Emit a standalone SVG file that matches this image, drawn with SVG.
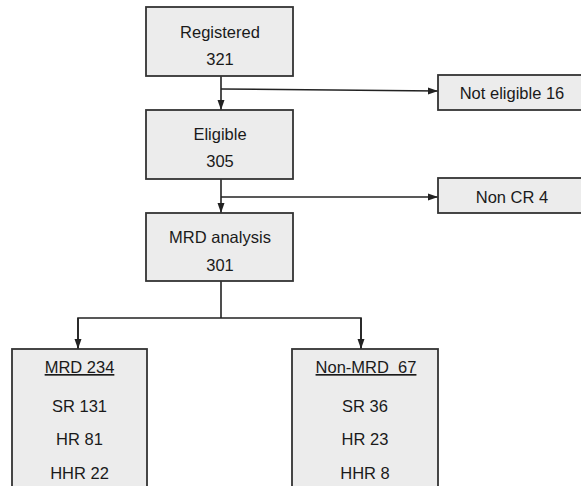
<svg xmlns="http://www.w3.org/2000/svg" width="581" height="486" viewBox="0 0 581 486">
<style>
.box{fill:#ececec;stroke:#333;stroke-width:1.8}
.t{font-family:"Liberation Sans",Arial,sans-serif;font-size:16.5px;fill:#1a1a1a;text-anchor:middle}
.ln{fill:none;stroke:#222;stroke-width:1.6}
</style>
<defs>
<marker id="ah" markerUnits="userSpaceOnUse" markerWidth="10" markerHeight="10" viewBox="0 0 10 10" refX="10" refY="5" orient="auto">
<path d="M0,1.5 L10,5 L0,8.5 Z" fill="#222"/>
</marker>
</defs>
<rect width="581" height="486" fill="#fff"/>
<g id="connectors">
<line class="ln" x1="221" y1="76" x2="221" y2="110" marker-end="url(#ah)"/>
<line class="ln" x1="221" y1="89" x2="438" y2="91" marker-end="url(#ah)"/>
<line class="ln" x1="221" y1="179" x2="221" y2="213" marker-end="url(#ah)"/>
<line class="ln" x1="221" y1="197" x2="438" y2="197" marker-end="url(#ah)"/>
<polyline class="ln" points="221,281 221,318"/>
<polyline class="ln" points="78,349 78,318 361,318 361,349"/>
<line class="ln" x1="78" y1="318" x2="78" y2="349" marker-end="url(#ah)"/>
<line class="ln" x1="361" y1="318" x2="361" y2="349" marker-end="url(#ah)"/>
</g>
<g id="registered">
<rect class="box" x="146" y="7" width="147" height="69"/>
<text class="t" x="220" y="38">Registered</text>
<text class="t" x="220" y="65">321</text>
</g>
<g id="eligible">
<rect class="box" x="146" y="110" width="147" height="69"/>
<text class="t" x="220" y="140">Eligible</text>
<text class="t" x="220" y="167">305</text>
</g>
<g id="mrd-analysis">
<rect class="box" x="146" y="213" width="147" height="68"/>
<text class="t" x="220" y="243">MRD analysis</text>
<text class="t" x="220" y="271">301</text>
</g>
<g id="not-eligible">
<rect class="box" x="438" y="75" width="150" height="35"/>
<text class="t" x="512" y="99">Not eligible 16</text>
</g>
<g id="non-cr">
<rect class="box" x="438" y="178" width="150" height="35"/>
<text class="t" x="512" y="203">Non CR 4</text>
</g>
<g id="mrd">
<rect class="box" x="12" y="349" width="135" height="145"/>
<text class="t" x="79.5" y="373" text-decoration="underline">MRD 234</text>
<text class="t" x="79.5" y="412">SR 131</text>
<text class="t" x="79.5" y="445">HR 81</text>
<text class="t" x="79.5" y="479">HHR 22</text>
</g>
<g id="non-mrd">
<rect class="box" x="292" y="349" width="146" height="145"/>
<text class="t" x="366" y="373" text-decoration="underline" xml:space="preserve">Non-MRD  67</text>
<text class="t" x="365" y="412">SR 36</text>
<text class="t" x="365" y="445">HR 23</text>
<text class="t" x="365" y="479">HHR 8</text>
</g>
</svg>
